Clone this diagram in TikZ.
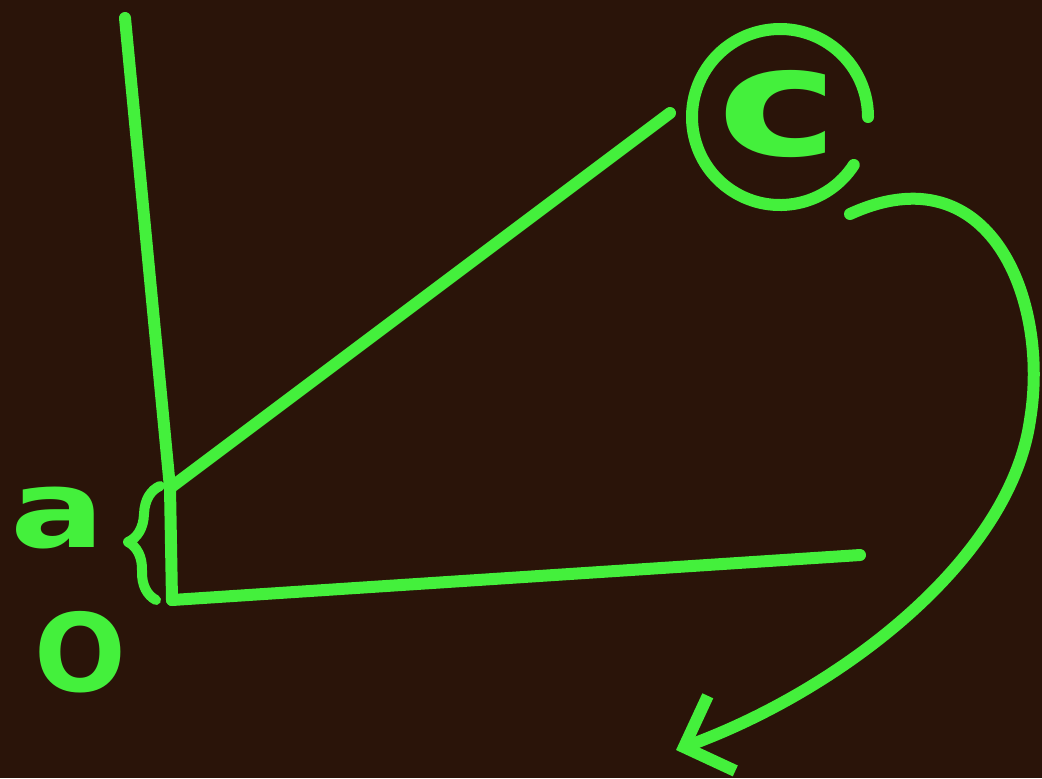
\documentclass[tikz,border=0pt]{standalone}
\usepackage{fontspec}
\setsansfont{DejaVu Sans}
\usetikzlibrary{positioning, arrows.meta, decorations.pathreplacing}
\definecolor{chalk}{HTML}{44F03C}
\definecolor{board}{HTML}{2A1409}
\begin{document}
\begin{tikzpicture}[
    x=0.5pt, y=-0.5pt,
    line cap=round, line join=round,
    stroke/.style={draw=chalk, line width=6pt},
    letter/.style={text=chalk, font=\sffamily\bfseries\fontsize{54}{54}\selectfont, inner sep=0pt}
]

% ============ BACKGROUND ============
\useasboundingbox (0,0) rectangle (1042,778);
\fill[board] (0,0) rectangle (1042,778);

% ============ AXES ============
\coordinate (orig) at (172,600);
\coordinate (ytop) at (125,18);
\coordinate (xend) at (860,555);
\coordinate (foot) at (170,488);
\coordinate (tip) at (670,113);

\draw[stroke] (ytop) -- (foot) -- (orig);
\draw[stroke] (orig) -- (xend);
\draw[stroke] (foot) -- (tip);

% ============ LABELS ============
\node[letter, xscale=1.3] (a) at (58,518) {a};
\node[letter] (o) at (80,652) {O};
\draw[stroke, line width=5pt, decoration={brace, amplitude=15pt}, decorate]
    (156,600) -- (160,486);

% ============ CIRCLED C ============
\node[letter, xscale=1.35, font=\sffamily\bfseries\fontsize{76}{76}\selectfont] (c) at (778,114) {c};
\coordinate (ring) at (780,117);
\draw[stroke] (ring) ++(33:88) arc[start angle=33, end angle=360, radius=88];

% ============ TURN ARROW ============
\coordinate (turn) at (850,214);
\coordinate (land) at (676,750);
\draw[stroke, -{Straight Barb[length=20pt, width=40pt, line width=6pt]}]
    (turn) .. controls (990,150) and (1050,300) .. (1030,420)
    .. controls (1010,560) and (840,690) .. (land);

\end{tikzpicture}
\end{document}
